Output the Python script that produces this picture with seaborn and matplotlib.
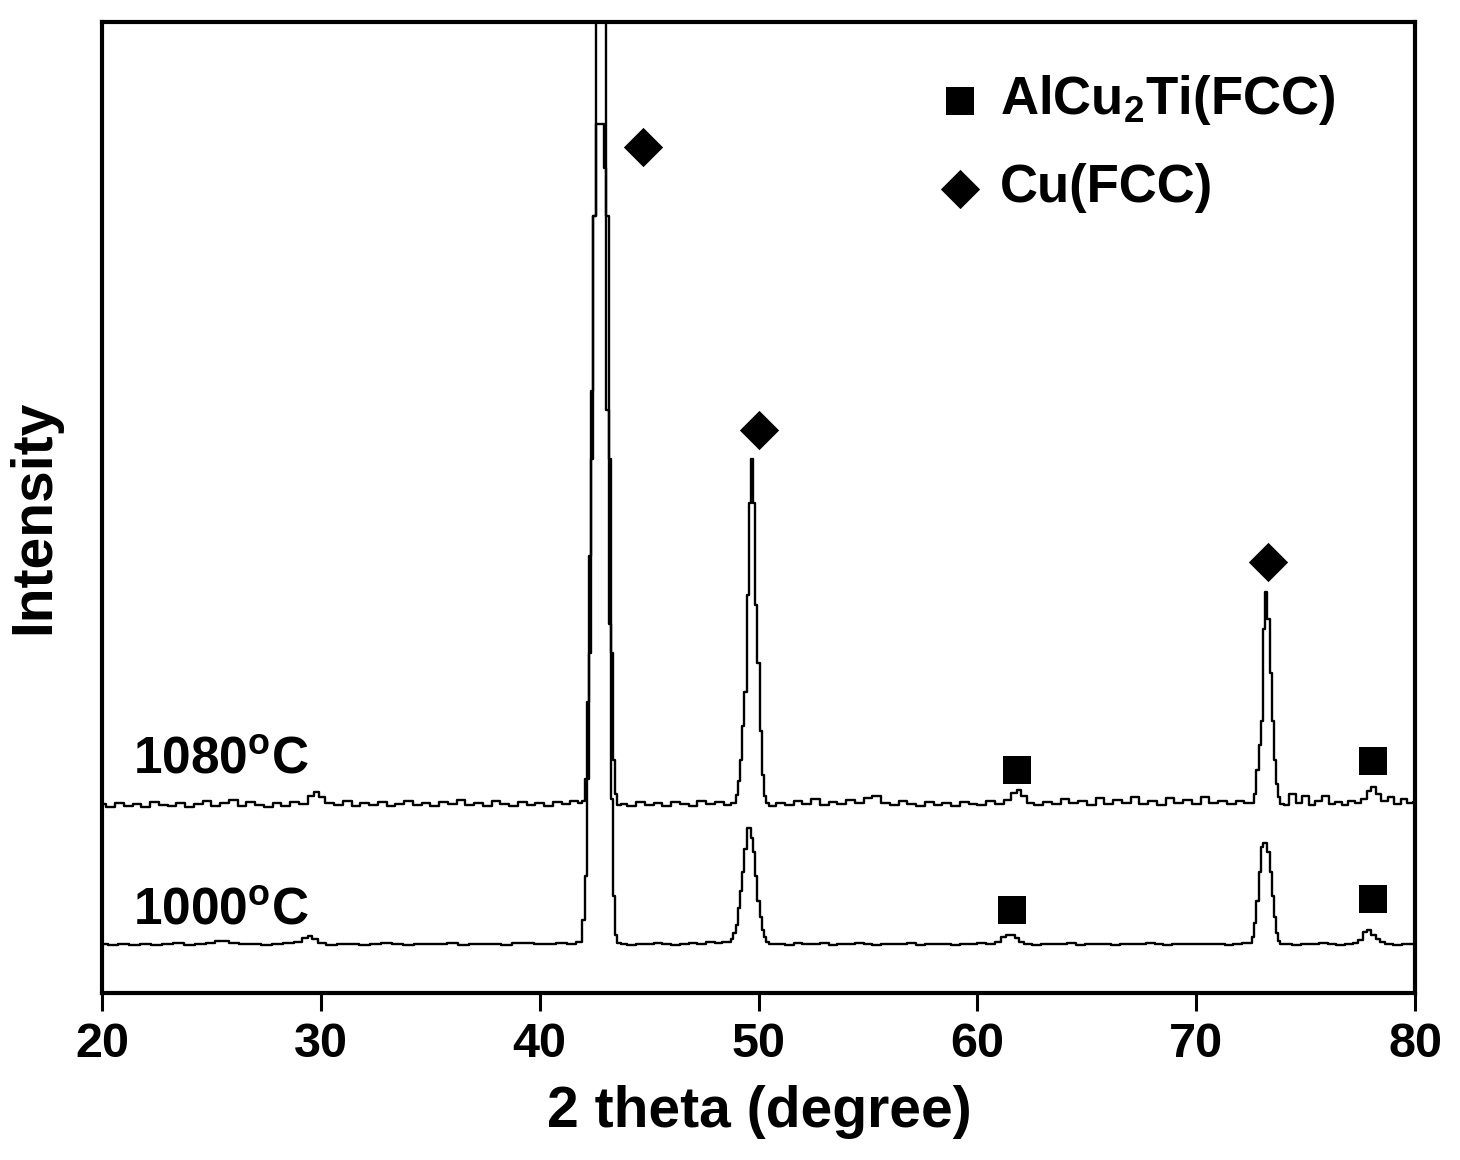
import numpy as np
import pandas as pd
import matplotlib
matplotlib.use("Agg")
import matplotlib.pyplot as plt
import seaborn as sns

# ---- data (2 theta in degree, intensity in a.u.) ----
pts_1000 = [
    (20.0, 5.0), (20.5, 4.9), (21.0, 5.0), (21.5, 4.95), (22.0, 5.05), (22.5, 4.9),
    (23.0, 5.0), (23.5, 5.1), (24.0, 4.95), (24.5, 5.05), (25.0, 5.1), (25.3, 5.4),
    (25.6, 5.35), (26.0, 5.1), (26.5, 5.0), (27.0, 5.05), (27.5, 4.95), (28.0, 5.0),
    (28.5, 5.1), (29.0, 5.2), (29.3, 5.7), (29.5, 5.9), (29.7, 5.6), (30.0, 5.1),
    (30.5, 4.9), (31.0, 5.0), (31.5, 5.05), (32.0, 4.95), (32.5, 5.0), (33.0, 5.1),
    (33.5, 5.0), (34.0, 4.95), (34.5, 5.05), (35.0, 5.0), (35.5, 5.0), (36.0, 5.1),
    (36.5, 4.95), (37.0, 5.0), (37.5, 5.05), (38.0, 5.0), (38.5, 4.95), (39.0, 5.1),
    (39.5, 5.15), (40.0, 5.0), (40.5, 5.05), (41.0, 5.1), (41.5, 5.0), (41.8, 5.2),
    (41.9, 5.3), (42.0, 7.5), (42.1, 12.0), (42.2, 22.0), (42.3, 35.0), (42.4, 55.0),
    (42.5, 80.0), (42.6, 89.5), (42.7, 89.5), (42.8, 89.5), (42.9, 89.5), (43.0, 85.0),
    (43.1, 60.0), (43.2, 38.0), (43.3, 20.0), (43.4, 10.0), (43.5, 6.0), (43.6, 5.1),
    (43.8, 5.0), (44.2, 4.95), (44.6, 5.05), (45.0, 5.0), (45.4, 5.1), (45.8, 5.0),
    (46.2, 4.95), (46.6, 5.0), (47.0, 5.1), (47.4, 5.0), (47.8, 5.2), (48.2, 5.1),
    (48.5, 5.3), (48.7, 5.2), (48.8, 5.6), (48.9, 6.2), (49.0, 7.0), (49.1, 8.8),
    (49.2, 10.5), (49.3, 12.5), (49.4, 14.8), (49.5, 17.0), (49.6, 17.0), (49.7, 16.0),
    (49.8, 14.5), (49.9, 12.0), (50.0, 9.5), (50.1, 7.8), (50.2, 6.5), (50.3, 5.8),
    (50.4, 5.3), (50.6, 5.0), (51.0, 5.05), (51.4, 4.95), (51.8, 5.1), (52.2, 5.0),
    (52.6, 5.0), (53.0, 5.1), (53.4, 4.95), (53.8, 5.05), (54.2, 5.0), (54.6, 5.1),
    (55.0, 5.0), (55.4, 4.95), (55.8, 5.05), (56.2, 5.0), (56.6, 5.0), (57.0, 5.1),
    (57.4, 4.95), (57.8, 5.0), (58.2, 5.05), (58.6, 5.0), (59.0, 4.95), (59.4, 5.05),
    (59.8, 5.0), (60.2, 5.1), (60.6, 5.05), (61.0, 5.3), (61.2, 5.8), (61.4, 6.0),
    (61.6, 6.0), (61.8, 5.7), (62.0, 5.2), (62.3, 5.0), (62.7, 4.95), (63.1, 5.05),
    (63.5, 5.0), (63.9, 5.0), (64.3, 5.1), (64.7, 4.95), (65.1, 5.0), (65.5, 5.05),
    (65.9, 5.0), (66.3, 4.95), (66.7, 5.05), (67.1, 5.0), (67.5, 5.0), (67.9, 5.1),
    (68.3, 5.0), (68.7, 4.95), (69.1, 5.0), (69.5, 5.05), (69.9, 5.0), (70.3, 5.0),
    (70.7, 5.05), (71.1, 5.0), (71.5, 4.95), (71.9, 5.0), (72.3, 5.1), (72.5, 5.1),
    (72.6, 5.8), (72.7, 7.2), (72.8, 9.5), (72.9, 12.5), (73.0, 15.0), (73.1, 15.4),
    (73.2, 15.4), (73.3, 14.5), (73.4, 12.5), (73.5, 10.0), (73.6, 7.8), (73.7, 6.2),
    (73.8, 5.4), (73.9, 5.0), (74.2, 5.0), (74.6, 4.95), (75.0, 5.05), (75.4, 5.0),
    (75.8, 5.1), (76.2, 5.0), (76.6, 4.95), (77.0, 5.05), (77.3, 5.1), (77.5, 5.5),
    (77.7, 6.3), (77.9, 6.5), (78.1, 6.0), (78.3, 5.6), (78.5, 5.3), (78.8, 5.0),
    (79.2, 4.95), (79.6, 5.0), (80.0, 5.0),
]

pts_1080 = [
    (20.0, 19.5), (20.4, 19.2), (20.8, 19.6), (21.2, 19.3), (21.6, 19.5), (22.0, 19.2),
    (22.4, 19.7), (22.8, 19.4), (23.2, 19.3), (23.6, 19.6), (24.0, 19.2), (24.4, 19.5),
    (24.8, 19.8), (25.2, 19.3), (25.6, 19.6), (26.0, 19.9), (26.4, 19.3), (26.8, 19.7),
    (27.2, 19.4), (27.6, 19.2), (28.0, 19.6), (28.4, 19.3), (28.8, 19.7), (29.2, 19.5),
    (29.6, 20.3), (29.8, 20.7), (30.0, 20.2), (30.4, 19.6), (30.8, 19.4), (31.2, 19.8),
    (31.6, 19.3), (32.0, 19.6), (32.4, 19.4), (32.8, 19.7), (33.2, 19.3), (33.6, 19.5),
    (34.0, 19.8), (34.4, 19.4), (34.8, 19.6), (35.2, 19.3), (35.6, 19.7), (36.0, 19.5),
    (36.4, 19.9), (36.8, 19.4), (37.2, 19.6), (37.6, 19.3), (38.0, 19.8), (38.4, 19.5),
    (38.8, 19.3), (39.2, 19.7), (39.6, 19.4), (40.0, 19.6), (40.4, 19.3), (40.8, 19.7),
    (41.2, 19.5), (41.6, 19.8), (41.9, 19.6), (42.0, 19.8), (42.1, 22.0), (42.2, 30.0),
    (42.3, 45.0), (42.4, 62.0), (42.5, 80.0), (42.6, 110.0), (42.7, 130.0), (42.8, 130.0),
    (42.9, 130.0), (43.0, 110.0), (43.1, 80.0), (43.2, 55.0), (43.3, 35.0), (43.4, 24.0),
    (43.5, 20.5), (43.6, 19.4), (43.8, 19.5), (44.2, 19.3), (44.6, 19.7), (45.0, 19.4),
    (45.4, 19.6), (45.8, 19.3), (46.2, 19.7), (46.6, 19.5), (47.0, 19.3), (47.4, 19.8),
    (47.8, 19.5), (48.2, 19.7), (48.6, 19.4), (48.9, 19.6), (49.0, 20.4), (49.1, 21.8),
    (49.2, 24.0), (49.3, 27.5), (49.4, 31.0), (49.5, 41.0), (49.6, 50.5), (49.7, 55.0),
    (49.8, 50.5), (49.9, 40.0), (50.0, 34.0), (50.1, 27.0), (50.2, 22.5), (50.3, 20.3),
    (50.4, 19.6), (50.6, 19.3), (51.0, 19.6), (51.4, 19.4), (51.8, 19.8), (52.2, 19.5),
    (52.6, 20.0), (53.0, 19.4), (53.4, 19.7), (53.8, 19.5), (54.2, 19.9), (54.6, 19.6),
    (55.0, 20.1), (55.4, 20.3), (55.8, 19.6), (56.2, 19.4), (56.6, 19.8), (57.0, 19.5),
    (57.4, 19.3), (57.8, 19.7), (58.2, 19.4), (58.6, 19.6), (59.0, 19.3), (59.4, 19.7),
    (59.8, 19.5), (60.2, 19.4), (60.6, 19.8), (61.0, 19.5), (61.4, 19.9), (61.7, 20.6),
    (61.9, 20.9), (62.1, 20.3), (62.4, 19.6), (62.8, 19.4), (63.2, 19.7), (63.6, 19.5),
    (64.0, 20.0), (64.4, 19.6), (64.8, 19.8), (65.2, 19.4), (65.6, 20.1), (66.0, 19.5),
    (66.4, 19.9), (66.8, 19.6), (67.2, 20.2), (67.6, 19.5), (68.0, 19.8), (68.4, 19.4),
    (68.8, 20.1), (69.2, 19.6), (69.6, 19.9), (70.0, 19.5), (70.4, 20.2), (70.8, 19.6),
    (71.2, 19.8), (71.6, 19.5), (72.0, 19.8), (72.4, 19.6), (72.6, 19.6), (72.7, 20.5),
    (72.8, 23.0), (72.9, 25.5), (73.0, 28.0), (73.1, 37.5), (73.2, 41.3), (73.3, 38.5),
    (73.4, 33.0), (73.5, 28.0), (73.6, 24.0), (73.7, 21.5), (73.8, 20.2), (73.9, 19.5),
    (74.1, 19.4), (74.4, 20.5), (74.7, 19.6), (75.0, 20.3), (75.3, 19.4), (75.6, 19.8),
    (75.9, 20.3), (76.2, 19.5), (76.5, 19.7), (76.8, 19.4), (77.1, 19.8), (77.4, 19.6),
    (77.7, 20.0), (77.9, 20.8), (78.1, 21.2), (78.3, 20.5), (78.6, 19.8), (78.9, 20.2),
    (79.2, 19.5), (79.5, 20.0), (79.8, 19.6), (80.0, 19.7),
]

# phase markers
cu_x = [44.7, 50.0, 73.27]
cu_y = [87.1, 58.0, 44.4]
alcu2ti_x = [61.8, 78.07, 61.56, 78.1]
alcu2ti_y = [23.0, 23.9, 8.55, 9.68]

sample_labels = [r"1080$^{\mathbf{o}}$C", r"1000$^{\mathbf{o}}$C"]
sample_label_x = [21.4, 21.4]
sample_label_y = [22.6, 7.0]

x_ticks = [20, 30, 40, 50, 60, 70, 80]

# ---- style ----
sns.set_theme(style="white")
plt.rcParams["font.family"] = ["Liberation Sans", "DejaVu Sans"]
plt.rcParams["font.weight"] = "bold"
plt.rcParams["text.color"] = "black"
plt.rcParams["axes.labelcolor"] = "black"
plt.rcParams["xtick.color"] = "black"
plt.rcParams["mathtext.fontset"] = "custom"
plt.rcParams["mathtext.rm"] = "Liberation Sans:bold"
plt.rcParams["mathtext.bf"] = "Liberation Sans:bold"

df_1000 = pd.DataFrame(pts_1000, columns=["theta", "intensity"])
df_1080 = pd.DataFrame(pts_1080, columns=["theta", "intensity"])

fig = plt.figure(figsize=(14.6, 11.6), dpi=100)
ax = fig.add_axes([0.0699, 0.144, 0.8993, 0.837])

for d in (df_1000, df_1080):
    sns.lineplot(data=d, x="theta", y="intensity", estimator=None, sort=False,
                 drawstyle="steps-mid", color="black", lw=1.7, ax=ax)

sns.scatterplot(x=alcu2ti_x, y=alcu2ti_y, marker="s", s=400, color="black",
                linewidth=0, label=r"AlCu$_{\mathbf{2}}$Ti(FCC)", ax=ax, zorder=5)
sns.scatterplot(x=cu_x, y=cu_y, marker="D", s=400, color="black",
                linewidth=0, label="Cu(FCC)", ax=ax, zorder=5)

for lab, lx, ly in zip(sample_labels, sample_label_x, sample_label_y):
    ax.text(lx, ly, lab, fontsize=37, fontweight="bold", va="baseline", ha="left",
            color="black")

ax.set_xlim(20, 80)
ax.set_ylim(0, 100)
ax.set_xticks(x_ticks)
ax.set_yticks([])
ax.tick_params(axis="x", direction="out", length=13, width=2.2, pad=8,
               labelsize=35, bottom=True, top=False, colors="black")
for lbl in ax.get_xticklabels():
    lbl.set_fontweight("bold")
for sp in ax.spines.values():
    sp.set_linewidth(3.0)
    sp.set_color("black")

ax.set_xlabel("2 theta (degree)", fontsize=41, fontweight="bold", color="black")
ax.set_ylabel("Intensity", fontsize=41, fontweight="bold", color="black")
ax.xaxis.set_label_coords(0.501, -0.095)
ax.xaxis.label.set_va("top")
ax.yaxis.set_label_coords(-0.031, 0.49)

leg = ax.legend(loc="upper left", bbox_to_anchor=(0.6375, 0.947), frameon=False,
                fontsize=38, handlelength=0.8, handletextpad=0.36,
                labelspacing=0.68, borderpad=0, borderaxespad=0)
for t in leg.get_texts():
    t.set_fontweight("bold")
    t.set_color("black")

fig.savefig("out.png", dpi=100)
